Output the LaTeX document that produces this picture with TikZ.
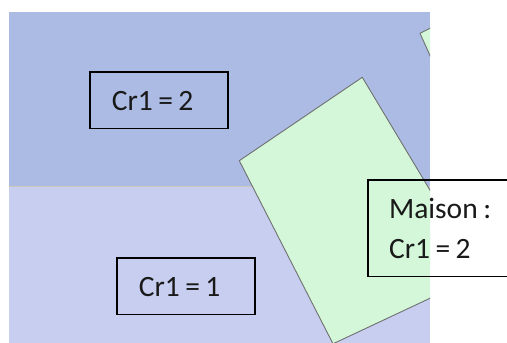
\documentclass[tikz,border=0pt]{standalone}
\usepackage{fontspec}
\setmainfont{Carlito}
\newcommand{\tsp}{\hspace{5.5pt}}
\definecolor{topblue}{HTML}{ABBBE3}
\definecolor{lowblue}{HTML}{C8CEF0}
\definecolor{housegreen}{HTML}{D3F7D8}
\definecolor{edgegray}{HTML}{707070}
\definecolor{seam}{HTML}{CFC7BC}
\begin{document}
\begin{tikzpicture}[x=1pt,y=-1pt,
  house/.style={fill=housegreen, draw=edgegray, line width=0.9pt, line join=round},
  label/.style={draw=black, line width=1.6pt, anchor=north west, align=left,
    font=\fontsize{29.5}{40}\selectfont, text=black!90, inner ysep=0pt}]
\useasboundingbox (0,0) rectangle (507,343);
\clip (0,0) rectangle (507,343);
\begin{scope}
  \clip (9,12) rectangle (430,345);
  \fill[topblue] (9,12) rectangle (430,186);
  \fill[lowblue] (9,186) rectangle (430,345);
  \draw[seam, line width=1pt] (9,186) -- (430,186);
  \coordinate (hl) at (239.3,160.7);
  \coordinate (ht) at (362.3,77.3);
  \coordinate (hr) at (480.6,274.5);
  \coordinate (hb) at (333.0,343.8);
  \filldraw[house] (hl) -- (ht) -- (hr) -- (hb) -- cycle;
  \coordinate (sa) at (420,33.3);
  \coordinate (sb) at (460,13.3);
  \coordinate (sc) at (480,60);
  \coordinate (sd) at (447,93.3);
  \filldraw[house] (sa) -- (sb) -- (sc) -- (sd) -- cycle;
\end{scope}
\node[label, minimum width=138pt, minimum height=56.7pt, text width=94.6pt, inner xsep=21.7pt,
  text height=20pt, text depth=0pt] (c2) at (89.3,71) {Cr1\tsp=\tsp2};
\node[label, minimum width=137.7pt, minimum height=56.4pt, text width=94.3pt, inner xsep=21.7pt,
  text height=20pt, text depth=0pt] (c1) at (116.3,257.3) {Cr1\tsp=\tsp1};
\node[label, minimum width=160pt, minimum height=96.7pt, text width=117.4pt, inner xsep=21.3pt]
  (m) at (367,179) {Maison\tsp:\\Cr1\tsp=\tsp2};
\end{tikzpicture}
\end{document}
